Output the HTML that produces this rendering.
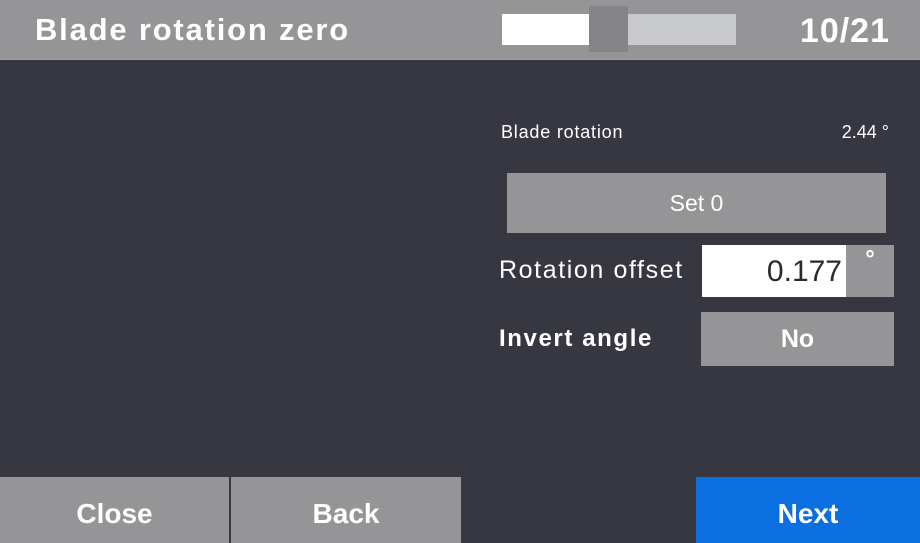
<!DOCTYPE html>
<html><head><style>
body{margin:0;width:920px;height:543px;background:#373742;position:relative;overflow:hidden;font-family:"Liberation Sans",sans-serif;color:#fff}
div{position:absolute;box-sizing:border-box}
.c{display:flex;align-items:center;justify-content:center}
</style></head><body>
<div style="left:0;top:0;width:920px;height:60px;background:#959597;border-bottom:1px solid #a2a2a4"></div>
<div style="left:35px;top:12px;font-size:31px;font-weight:bold;line-height:36px;letter-spacing:1.8px">Blade rotation zero</div>
<div style="left:502px;top:14px;width:87px;height:31px;background:#fff"></div>
<div style="left:628px;top:14px;width:108px;height:31px;background:#c8c9cc"></div>
<div style="left:589px;top:6px;width:39px;height:46px;background:#858588"></div>
<div style="right:30px;top:12px;font-size:34px;font-weight:bold;line-height:38px;letter-spacing:1px">10/21</div>
<div style="left:501px;top:122px;font-size:18px;letter-spacing:0.8px">Blade rotation</div>
<div style="right:31px;top:122px;font-size:18px">2.44 °</div>
<div class="c" style="left:507px;top:173px;width:379px;height:60px;background:#959597;font-size:23px">Set 0</div>
<div style="left:499px;top:256px;font-size:25px;letter-spacing:1.6px">Rotation offset</div>
<div style="left:702px;top:245px;width:144px;height:52px;background:#fff;color:#2a2a2a;font-size:30px;text-align:right;padding-right:4px;line-height:54px">0.177</div>
<div style="left:846px;top:245px;width:48px;height:52px;background:#959597;font-size:24px;font-weight:bold;text-align:center;line-height:30px">°</div>
<div style="left:499px;top:325px;font-size:24px;font-weight:bold;letter-spacing:1.6px">Invert angle</div>
<div class="c" style="left:701px;top:312px;width:193px;height:54px;background:#959597;font-size:25px;font-weight:bold">No</div>
<div class="c" style="left:0;top:477px;width:229px;height:66px;background:#959597;font-size:28px;font-weight:bold;padding-top:8px">Close</div>
<div class="c" style="left:231px;top:477px;width:230px;height:66px;background:#959597;font-size:28px;font-weight:bold;padding-top:8px">Back</div>
<div class="c" style="left:696px;top:477px;width:224px;height:66px;background:#0a6fe0;font-size:28px;font-weight:bold;padding-top:8px">Next</div>
</body></html>
